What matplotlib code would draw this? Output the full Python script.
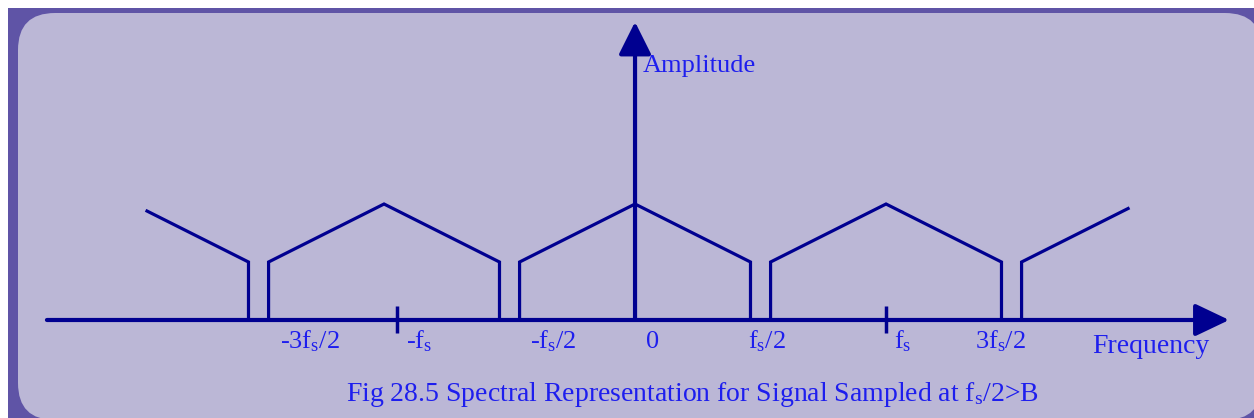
import numpy as np
import matplotlib.pyplot as plt
from matplotlib.patches import Rectangle, FancyBboxPatch

plt.rcParams["font.family"] = ["Liberation Serif", "DejaVu Serif"]
plt.rcParams["mathtext.default"] = "regular"

# spectrum replicas (frequency in units of fs)
centers = [-2, -1, 0, 1, 2]
peak_amp = 1.0
edge_amp = 0.5
band = 0.46
left_cut = -1.95
right_cut = 1.97

# tick marks and labels on the frequency axis
tick_marks = [-0.95, 1.0]
label_text = ["-3f$_s$/2", "-f$_s$", "-f$_s$/2", "0", "f$_s$/2", "f$_s$", "3f$_s$/2"]
label_x = [-1.414, -0.912, -0.418, 0.044, 0.450, 1.030, 1.355]

caption = "Fig 28.5 Spectral Representation for Signal Sampled at f$_s$/2>B"

line_col = "#000090"
text_col = "#1E1EEE"
frame_col = "#5F54A6"
panel_col = "#BBB7D6"

W, H = 1254, 418
fig = plt.figure(figsize=(W / 100, H / 100), dpi=100, facecolor="white")

# background frame in pixel coordinates
bg = fig.add_axes([0, 0, 1, 1])
bg.set_xlim(0, W)
bg.set_ylim(H, 0)
bg.axis("off")
bg.add_patch(Rectangle((8, 8), W - 8, H - 8, color=frame_col, lw=0))
bg.add_patch(FancyBboxPatch((18, 13), 1262 - 18, 420 - 13,
                            boxstyle="round,pad=0,rounding_size=37",
                            fc=panel_col, ec="none"))
bg.text(346, 401, caption, color=text_col, fontsize=20, va="baseline", ha="left")

# main drawing
ax = fig.add_axes([0, 0, 1, 1])
ax.patch.set_alpha(0)
ax.axis("off")
ax.set_xlim(-2.530, 2.466)
ax.set_ylim(-0.845, 2.759)

for c in centers:
    lo, hi = c - band, c + band
    xs = [lo, lo, c, hi, hi]
    ys = [0, edge_amp, peak_amp, edge_amp, 0]
    if lo < left_cut:
        y_cut = np.interp(left_cut, [c, hi], [peak_amp, edge_amp])
        xs = [left_cut, hi, hi]
        ys = [y_cut, edge_amp, 0]
    if hi > right_cut:
        y_cut = np.interp(right_cut, [lo, c], [edge_amp, peak_amp])
        xs = [lo, lo, right_cut]
        ys = [0, edge_amp, y_cut]
    ax.plot(xs, ys, color=line_col, lw=2.3, solid_joinstyle="miter",
            solid_capstyle="butt")

# axes with arrows
ax.annotate("", xy=(2.367, 0), xytext=(-2.343, 0),
            arrowprops=dict(arrowstyle="-|>,head_length=1.05,head_width=0.5",
                            mutation_scale=20, lw=3, color=line_col,
                            shrinkA=0, shrinkB=0))
ax.annotate("", xy=(0, 2.57), xytext=(0, 0),
            arrowprops=dict(arrowstyle="-|>,head_length=1.0,head_width=0.5",
                            mutation_scale=20, lw=3, color=line_col,
                            shrinkA=0, shrinkB=0))

for t in tick_marks:
    ax.plot([t, t], [-0.11, 0.12], color=line_col, lw=2.5, solid_capstyle="butt")

for lx, lt in zip(label_x, label_text):
    ax.text(lx, -0.241, lt, color=text_col, fontsize=19, ha="left", va="baseline")

ax.text(1.821, -0.284, "Frequency", color=text_col, fontsize=20, ha="left", va="baseline")
ax.text(0.032, 2.138, "Amplitude", color=text_col, fontsize=19, ha="left", va="baseline")

fig.savefig("out.png", dpi=100, facecolor="white")
